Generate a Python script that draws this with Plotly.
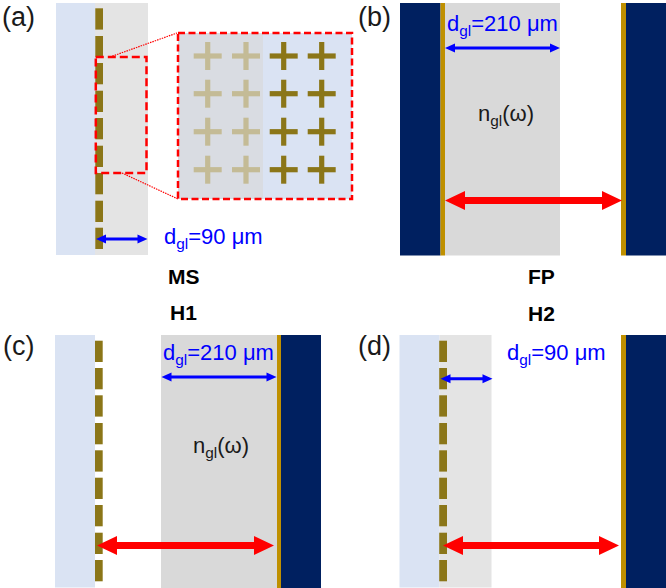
import plotly.graph_objects as go

# Canvas extent of the schematic
canvas_w, canvas_h = 666, 588

# Colours
LIGHT_BLUE = "#DAE3F3"
LIGHT_GREY = "#E4E4E4"
GREY = "#D9D9D9"
INSET_GREY = "#D9DCE2"
NAVY = "#002060"
GOLD = "#BF9000"
SLOT = "#8B7618"
PALE_CROSS = "#C4BB96"
RED = "#FF0000"
BLUE = "#0000FF"
TEXT = "#1A1A1A"

# Layers: (x0, x1, y0, y1, colour)
layers = [
    # (a)
    (56, 95, 3, 255, LIGHT_BLUE), (95, 148, 3, 255, LIGHT_GREY),
    # (b)
    (400, 440.5, 3, 255.5, NAVY), (440.5, 445, 3, 255.5, GOLD), (445, 560, 3, 255.5, GREY),
    (621, 626, 3, 255.5, GOLD), (626, 666, 3, 255.5, NAVY),
    # (c)
    (55, 95, 335, 587.5, LIGHT_BLUE), (161, 277, 335, 588, GREY),
    (277, 281, 335, 588, GOLD), (281, 321, 335, 588, NAVY),
    # (d)
    (399.5, 439.5, 335, 587.5, LIGHT_BLUE), (439.5, 491.5, 335, 587.5, LIGHT_GREY),
    (621, 626, 335, 588, GOLD), (626, 666, 335, 588, NAVY),
    # inset of (a)
    (178, 263, 33, 199, INSET_GREY), (263, 352, 33, 199, LIGHT_BLUE),
]

# Metasurface slots seen edge-on
slot_tops_ab = [8.3, 36, 63, 90.7, 118, 145.7, 173, 200.7, 227.7]
slot_tops_cd = [340.7, 368, 395.3, 423, 450.3, 477.7, 505, 532.7, 560]
slot_height = 21.3
slot_columns = [(95.3, 103, slot_tops_ab), (95, 102.7, slot_tops_cd), (439.2, 447, slot_tops_cd)]

# Inset crosses
cross_x_pale = [207.7, 246]
cross_x_dark = [283.7, 321.7]
cross_y = [56, 93.7, 131.7, 169.7]
cross_arm = 14
cross_half_bar = 2.6

# Dashed selection boxes
dashed_boxes = [(95.8, 146.5, 57, 173, "8px,4px"), (178, 352, 33, 199, "7px,3.5px")]
# Dotted leader lines
leaders = [(110, 57, 177, 33), (122, 173, 178, 199)]

# Double arrows: (x0, x1, y, half shaft, head length, head half width, colour)
arrows = [
    (96, 147.5, 239, 1.5, 10, 4.5, BLUE),
    (445, 560, 48, 1.5, 10, 4.5, BLUE),
    (161.5, 276.5, 377, 1.5, 10, 4.5, BLUE),
    (440.5, 492.5, 378.7, 1.5, 10, 4.5, BLUE),
    (445, 622, 200.5, 3.5, 20, 9.5, RED),
    (97, 274, 545.5, 3.5, 20, 9.5, RED),
    (443, 619, 545.5, 3.5, 20, 9.5, RED),
]

# Text: (x, y, string, anchor, size, bold, colour)
labels = [
    (1, 17, "(a)", "left", 27, False, TEXT),
    (357, 17, "(b)", "left", 27, False, TEXT),
    (2, 346, "(c)", "left", 27, False, TEXT),
    (357, 346, "(d)", "left", 27, False, TEXT),
    (184, 276, "MS", "center", 21, True, "#000000"),
    (183, 312, "H1", "center", 21, True, "#000000"),
    (541, 276, "FP", "center", 21, True, "#000000"),
    (541, 313, "H2", "center", 21, True, "#000000"),
    (163, 238, "d<sub>gl</sub>=90 μm", "left", 22, False, BLUE),
    (446, 25, "d<sub>gl</sub>=210 μm", "left", 22, False, BLUE),
    (162, 354, "d<sub>gl</sub>=210 μm", "left", 22, False, BLUE),
    (506, 354, "d<sub>gl</sub>=90 μm", "left", 22, False, BLUE),
    (506, 115, "n<sub>gl</sub>(ω)", "center", 22, False, TEXT),
    (221, 447, "n<sub>gl</sub>(ω)", "center", 22, False, TEXT),
]

fig = go.Figure()


def rect(x0, x1, y0, y1, colour):
    fig.add_shape(type="rect", xref="x", yref="y", x0=x0, x1=x1, y0=y0, y1=y1,
                  fillcolor=colour, line_width=0, layer="above")


for x0, x1, y0, y1, colour in layers:
    rect(x0, x1, y0, y1, colour)

for x0, x1, tops in slot_columns:
    for top in tops:
        rect(x0, x1, top, top + slot_height, SLOT)

for xs, colour in ((cross_x_pale, PALE_CROSS), (cross_x_dark, SLOT)):
    for cx in xs:
        for cy in cross_y:
            rect(cx - cross_arm, cx + cross_arm, cy - cross_half_bar, cy + cross_half_bar, colour)
            rect(cx - cross_half_bar, cx + cross_half_bar, cy - cross_arm, cy + cross_arm, colour)

for x0, x1, y0, y1, dash in dashed_boxes:
    fig.add_shape(type="rect", xref="x", yref="y", x0=x0, x1=x1, y0=y0, y1=y1,
                  fillcolor="rgba(0,0,0,0)", line=dict(color=RED, width=2.5, dash=dash), layer="above")

for x0, y0, x1, y1 in leaders:
    fig.add_shape(type="line", xref="x", yref="y", x0=x0, x1=x1, y0=y0, y1=y1,
                  line=dict(color=RED, width=1.2, dash="1.5px,1px"), layer="above")

for x0, x1, y, s, hl, hw, colour in arrows:
    pts = [(x0, y), (x0 + hl, y - hw), (x0 + hl, y - s), (x1 - hl, y - s), (x1 - hl, y - hw),
           (x1, y), (x1 - hl, y + hw), (x1 - hl, y + s), (x0 + hl, y + s), (x0 + hl, y + hw)]
    path = "M " + " L ".join(f"{px},{py}" for px, py in pts) + " Z"
    fig.add_shape(type="path", xref="x", yref="y", path=path, fillcolor=colour, line_width=0, layer="above")

for x, y, s, anchor, size, bold, colour in labels:
    fig.add_annotation(x=x, y=y, xref="x", yref="y", text=f"<b>{s}</b>" if bold else s, showarrow=False,
                       xanchor=anchor, yanchor="middle", borderpad=0,
                       font=dict(family="Liberation Sans", size=size, color=colour))

fig.update_layout(
    width=canvas_w, height=canvas_h, autosize=False,
    margin=dict(l=0, r=0, t=0, b=0),
    paper_bgcolor="white", plot_bgcolor="white", showlegend=False,
    xaxis=dict(range=[0, canvas_w], visible=False, fixedrange=True),
    yaxis=dict(range=[canvas_h, 0], visible=False, fixedrange=True),
)
fig.write_html("out.html", config={"displayModeBar": False},
               post_script="document.body.style.margin='0';document.body.style.overflow='hidden';")
